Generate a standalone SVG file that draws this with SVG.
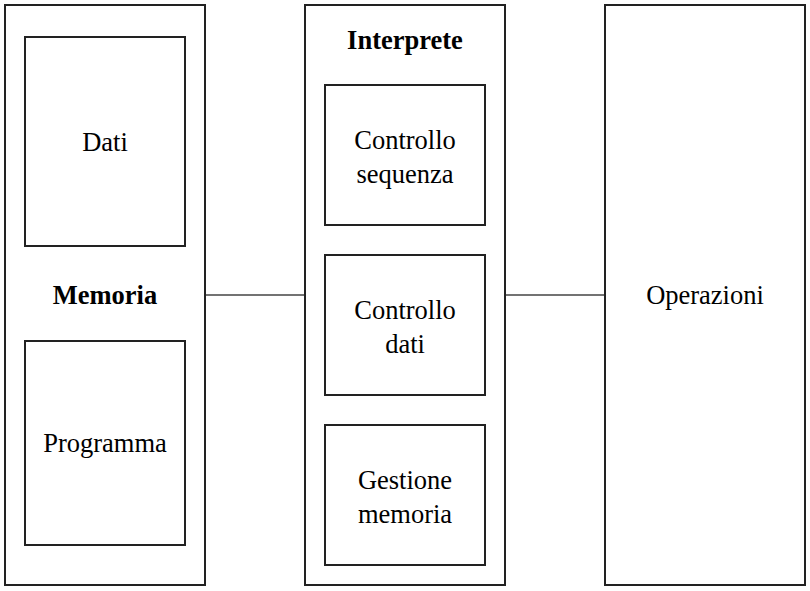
<svg xmlns="http://www.w3.org/2000/svg" width="810" height="591" viewBox="0 0 810 591">
<style>
.box{fill:#fff;stroke:#222;stroke-width:2}
.in{fill:none;stroke:#222;stroke-width:2}
.t{font-family:"Liberation Serif","Times New Roman",serif;font-size:26.5px;fill:#000;text-anchor:middle}
.b{font-weight:bold}
.c{stroke:#444;stroke-width:1.5;fill:none}
</style>
<rect width="810" height="591" fill="#fff"/>
<g id="connectors">
<line class="c" x1="205" y1="295" x2="305" y2="295"/>
<line class="c" x1="505" y1="295" x2="605" y2="295"/>
</g>
<g id="memoria">
<rect class="box" x="5" y="5" width="200" height="580"/>
<text class="t b" x="105" y="304">Memoria</text>
</g>
<g id="dati">
<rect class="in" x="25" y="37" width="160" height="209"/>
<text class="t" x="105" y="151">Dati</text>
</g>
<g id="programma">
<rect class="in" x="25" y="341" width="160" height="204"/>
<text class="t" x="105" y="452">Programma</text>
</g>
<g id="interprete">
<rect class="box" x="305" y="5" width="200" height="580"/>
<text class="t b" x="405" y="49">Interprete</text>
</g>
<g id="controllo-sequenza">
<rect class="in" x="325" y="85" width="160" height="140"/>
<text class="t" x="405" y="149">Controllo</text>
<text class="t" x="405" y="183">sequenza</text>
</g>
<g id="controllo-dati">
<rect class="in" x="325" y="255" width="160" height="140"/>
<text class="t" x="405" y="319">Controllo</text>
<text class="t" x="405" y="353">dati</text>
</g>
<g id="gestione-memoria">
<rect class="in" x="325" y="425" width="160" height="140"/>
<text class="t" x="405" y="489">Gestione</text>
<text class="t" x="405" y="523">memoria</text>
</g>
<g id="operazioni">
<rect class="box" x="605" y="5" width="200" height="580"/>
<text class="t" x="705" y="304">Operazioni</text>
</g>
</svg>
